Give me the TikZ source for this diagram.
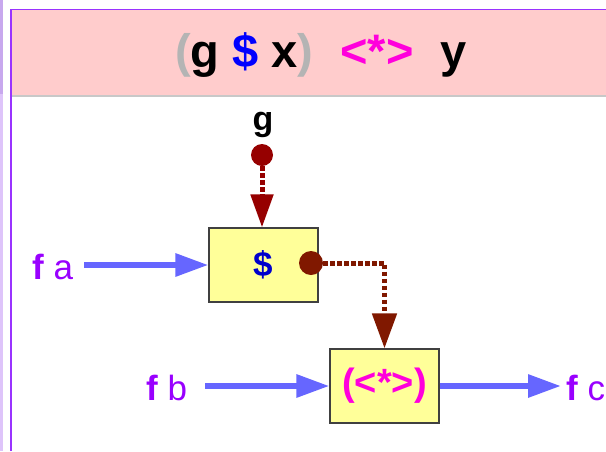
\documentclass[tikz,border=0pt]{standalone}
\usepackage{fontspec}
\setmainfont{Liberation Sans}
\usetikzlibrary{arrows.meta}
\definecolor{framepurple}{RGB}{153,51,255}
\definecolor{lav}{RGB}{222,196,250}
\definecolor{lavdark}{RGB}{200,168,238}
\definecolor{headpink}{RGB}{255,204,204}
\definecolor{sepgray}{RGB}{200,200,200}
\definecolor{boxyellow}{RGB}{255,255,153}
\definecolor{boxborder}{RGB}{64,64,64}
\definecolor{flowblue}{RGB}{102,102,255}
\definecolor{labpurple}{RGB}{153,0,255}
\definecolor{darkredA}{RGB}{150,0,0}
\definecolor{darkredB}{RGB}{128,24,0}
\definecolor{parengray}{RGB}{180,180,180}
\definecolor{dollarblue}{RGB}{0,0,255}
\definecolor{boxblue}{RGB}{0,0,204}
\definecolor{opmagenta}{RGB}{255,0,220}
\begin{document}
\begin{tikzpicture}[x=1pt,y=-1pt,
  fnbox/.style={draw=boxborder, line width=1.2pt, fill=boxyellow, minimum width=109pt, minimum height=74pt, inner sep=0pt},
  lab/.style={inner sep=0pt, anchor=base west, font=\fontsize{35}{42}\selectfont, text=labpurple},
  flow/.style={draw=flowblue, line width=6pt, -{Triangle[length=33pt,width=22pt]}},
  bind/.style={line width=5pt, dash pattern=on 4.5pt off 2.5pt},
  dot/.style={circle, inner sep=0pt}
]
\clip (0,0) rectangle (606,451);
\useasboundingbox (0,0) rectangle (606,451);
% frame
\fill[lavdark] (0,0) rectangle (2.5,94);
\fill[lav] (0,94) rectangle (2.5,451);
\fill[headpink] (11,9.5) rectangle (606,96);
\draw[sepgray, line width=1.5pt] (11,96) -- (606,96);
\draw[framepurple, line width=1.5pt] (11,451) -- (11,9.5) -- (606,9.5);
% title
\node[inner sep=0pt, anchor=base, font=\fontsize{47}{56}\selectfont\bfseries] (title) at (321,67)
  {{\color{parengray}(}g {\color{dollarblue}\$} x{\color{parengray})}\hspace{27pt}{\color{opmagenta}<*>}\hspace{27pt}y};
% boxes
\node[fnbox] (box1) at (263.5,265) {\fontsize{35}{42}\selectfont\bfseries\color{boxblue}\$};
\node[fnbox] (box2) at (384.5,386) {\fontsize{38}{45}\selectfont\bfseries\color{opmagenta}(<*>)};
% labels
\node[inner sep=0pt, anchor=base, font=\fontsize{34}{40}\selectfont\bfseries] (glab) at (263,130) {g};
\node[lab] (fa) at (32,279) {\textbf{f} a};
\node[lab] (fb) at (146,400) {\textbf{f} b};
\node[lab] (fc) at (566,400) {\textbf{f} c};
% dots
\node[dot, fill=darkredA, minimum size=22pt] (dotg) at (262,155) {};
\node[dot, fill=darkredB, minimum size=24pt] (dotd) at (311,263) {};
% flows
\draw[flow, shorten <=11pt] (fa.east |- box1.west) -- (box1.west);
\draw[flow, shorten <=18pt] (fb.east |- box2.west) -- (box2.west);
\draw[flow, shorten >=5pt] (box2.east) -- (fc.west |- box2.east);
% bindings
\draw[bind, draw=darkredA, -{Triangle[length=33pt,width=22pt]}] (dotg) -- (dotg |- box1.north);
\draw[bind, draw=darkredB, -{Triangle[length=35pt,width=24pt]}] (dotd) -| (box2.north);
\end{tikzpicture}
\end{document}
